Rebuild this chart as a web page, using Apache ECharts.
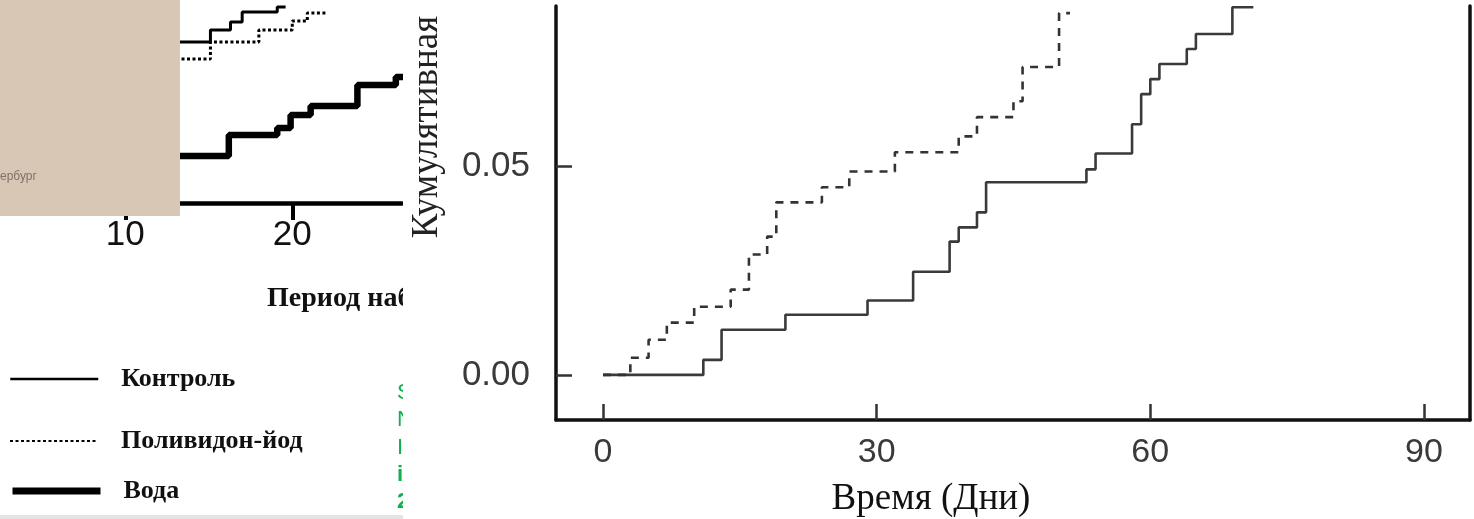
<!DOCTYPE html>
<html><head><meta charset="utf-8">
<script src="https://cdn.jsdelivr.net/npm/echarts@6/dist/echarts.min.js"></script>
<style>html,body{margin:0;padding:0;background:#fff}#c{width:1474px;height:519px}</style>
</head><body><div id="c"></div>
<script>
// ---------- Left panel (partly hidden) ----------
const leftTickValues = [10, 20];
const leftNames = ['Контроль', 'Поливидон-йод', 'Вода'];
const leftControl  = [[2.5,79.3],[15.1,85.2],[16.3,89.2],[17.0,94.1],[19.1,96.6],[19.6,96.6]];
const leftPovidone = [[2.5,70.9],[15.1,79.3],[18.0,85.2],[20.0,89.7],[20.9,93.6],[22.1,93.6]];
const leftWater    = [[2.5,23.2],[16.2,33.5],[19.1,36.9],[19.9,43.3],[21.1,47.8],[23.9,58.1],[26.2,62.1],[27.0,62.1]];
const leftXName = 'Период наблюдения';
const greenChars = ['S', 'N', 'I', 'i', '2'];

// ---------- Right panel ----------
const rightXTicks = [0, 30, 60, 90];
const rightYTicks = [0, 0.05];
const rightSolid  = [[0,0],[11,0.0036],[13,0.0108],[20,0.0144],[29,0.0178],[34,0.0247],[38,0.0319],[39,0.0353],[41,0.0389],[42,0.0461],[53,0.0492],[54,0.0530],[58,0.0600],[59,0.0672],[60,0.0708],[61,0.0744],[64,0.0780],[65,0.0816],[69,0.0880],[71.3,0.0880]];
const rightDashed = [[0,0],[3,0.0041],[5,0.0084],[7,0.0125],[10,0.0163],[14,0.0204],[16,0.0288],[18,0.0331],[19,0.0413],[24,0.0449],[27,0.0487],[32,0.0533],[39,0.0571],[41,0.0617],[45,0.0655],[46,0.0737],[50,0.0866],[51.2,0.0866]];
const rightXName = 'Время (Дни)';
const rightYName = 'Кумулятивная';

const SANS = '"Liberation Sans", Arial, sans-serif';
const SERIF = '"Liberation Serif", "DejaVu Serif", serif';

const chart = echarts.init(document.getElementById('c'), null, {renderer: 'canvas'});

function legendFor(name, top, width) {
  return {
    data: [name], left: 4, top: top, orient: 'vertical', selectedMode: false,
    itemWidth: 88, itemHeight: 2,
    lineStyle: {width: width},
    itemStyle: {opacity: 0},
    textStyle: {fontFamily: SERIF, fontWeight: 'bold', fontSize: 26, color: '#111', padding: [0, 0, 0, 18]}
  };
}

const greenGraphics = greenChars.map((ch, i) => ({
  type: 'text', x: 397, y: [393, 420, 448, 475, 502][i], z: 5,
  style: {text: ch, fill: '#12b04c', font: (ch === 'i' || ch === '2' ? 'bold ' : '') + '22px ' + SANS,
          textVerticalAlign: 'middle', verticalAlign: 'middle'}
}));

chart.setOption({
  animation: false,
  backgroundColor: '#fff',
  legend: [legendFor(leftNames[0], 361, 2.5), legendFor(leftNames[1], 423, 2), legendFor(leftNames[2], 473, 7)],
  grid: [
    {left: 0, right: 1072, top: 0, bottom: 316},
    {left: 556, right: 4, top: 6, bottom: 99}
  ],
  xAxis: [
    {type: 'value', gridIndex: 0, min: 2.5, max: 26.57, z: 3,
     axisLine: {onZero: false, lineStyle: {color: '#000', width: 4.5}},
     axisTick: {inside: false, length: 17, customValues: leftTickValues, lineStyle: {color: '#000', width: 4}},
     axisLabel: {customValues: leftTickValues, fontFamily: SANS, fontSize: 35, color: '#111', margin: 15},
     splitLine: {show: false}},
    {type: 'value', gridIndex: 1, min: -5.15, max: 95.05, z: 30,
     axisLine: {onZero: false, lineStyle: {color: '#111', width: 3.5}},
     axisTick: {inside: true, length: 16, customValues: rightXTicks, lineStyle: {color: '#333', width: 2.5}},
     axisLabel: {customValues: rightXTicks, fontFamily: SANS, fontSize: 34, color: '#3a3a3a', margin: 16},
     splitLine: {show: false}}
  ],
  yAxis: [
    {type: 'value', gridIndex: 0, min: 0, max: 100, show: false},
    {type: 'value', gridIndex: 1, min: -0.0108, max: 0.0883, z: 30,
     axisLine: {show: true, onZero: false, lineStyle: {color: '#111', width: 3.5}},
     axisTick: {show: true, inside: true, length: 16, customValues: rightYTicks, lineStyle: {color: '#333', width: 2.5}},
     axisLabel: {customValues: rightYTicks, fontFamily: SANS, fontSize: 35, color: '#3a3a3a', margin: 26,
                 formatter: v => v.toFixed(2)},
     splitLine: {show: false}},
    {type: 'value', gridIndex: 1, position: 'right', min: -0.0108, max: 0.0883, z: 30,
     axisLine: {show: true, onZero: false, lineStyle: {color: '#111', width: 3.5}},
     axisTick: {show: false}, axisLabel: {show: false}, splitLine: {show: false}}
  ],
  series: [
    {name: leftNames[0], type: 'line', step: 'end', xAxisIndex: 0, yAxisIndex: 0, data: leftControl,
     symbol: 'none', lineStyle: {color: '#000', width: 3}, itemStyle: {color: '#000'}, z: 2},
    {name: leftNames[1], type: 'line', step: 'end', xAxisIndex: 0, yAxisIndex: 0, data: leftPovidone,
     symbol: 'none', lineStyle: {color: '#000', width: 3, type: [3, 2.5]}, itemStyle: {color: '#000'}, z: 2},
    {name: leftNames[2], type: 'line', step: 'end', xAxisIndex: 0, yAxisIndex: 0, data: leftWater,
     symbol: 'none', lineStyle: {color: '#000', width: 6.5}, itemStyle: {color: '#000'}, z: 2},
    {name: 'solid', type: 'line', step: 'end', xAxisIndex: 1, yAxisIndex: 1, data: rightSolid,
     symbol: 'none', lineStyle: {color: '#3a3a3a', width: 2.6}, z: 31},
    {name: 'dashed', type: 'line', step: 'end', xAxisIndex: 1, yAxisIndex: 1, data: rightDashed,
     symbol: 'none', lineStyle: {color: '#333', width: 2.6, type: [8, 7]}, z: 31}
  ],
  graphic: [
    {type: 'rect', shape: {x: 0, y: 0, width: 180, height: 216}, style: {fill: '#d9c7b6'}, z: 10},
    {type: 'text', x: 0, y: 177, z: 11,
     style: {text: 'ербург', fill: '#7f7166', font: '12px ' + SANS, textVerticalAlign: 'middle', verticalAlign: 'middle'}},
    {type: 'text', x: 267, y: 299, z: 5,
     style: {text: leftXName, fill: '#111', font: 'bold 28px ' + SERIF, textVerticalAlign: 'middle', verticalAlign: 'middle'}},
    ...greenGraphics,
    {type: 'rect', shape: {x: 0, y: 515, width: 403, height: 4}, style: {fill: '#e4e4e4'}, z: 5},
    {type: 'rect', shape: {x: 403, y: 0, width: 1071, height: 519}, style: {fill: '#fff'}, z: 20},
    {type: 'text', x: 931, y: 499, z: 40,
     style: {text: rightXName, fill: '#111', font: '37px ' + SERIF, textAlign: 'center', align: 'center',
             textVerticalAlign: 'middle', verticalAlign: 'middle'}},
    {type: 'text', x: 427, y: 127, rotation: Math.PI / 2, z: 40,
     style: {text: rightYName, fill: '#222', font: '37px ' + SERIF, textAlign: 'center', align: 'center',
             textVerticalAlign: 'middle', verticalAlign: 'middle'}}
  ]
});
</script></body></html>
